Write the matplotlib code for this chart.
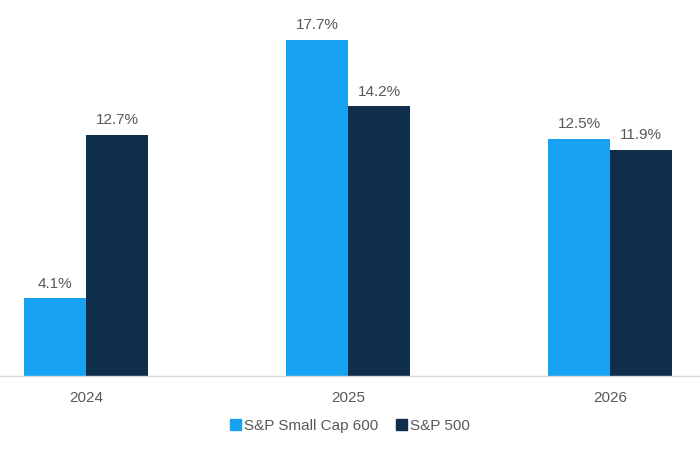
import numpy as np
import matplotlib.pyplot as plt
from matplotlib.patches import Patch

years = ['2024', '2025', '2026']
small_cap = [4.1, 17.7, 12.5]
sp500 = [12.7, 14.2, 11.9]
series_names = ['S&P Small Cap 600', 'S&P 500']

light = '#18a2f2'
dark = '#0f2e4b'
grey = '#595959'

plt.rcParams['font.family'] = ['Liberation Sans', 'DejaVu Sans']

fig = plt.figure(figsize=(7, 4.5), dpi=100)
ax = fig.add_axes([0, 1 - 376 / 450, 1, 356 / 450])

x = np.arange(len(years))
w = 0.237
b1 = ax.bar(x - w / 2, small_cap, w, color=light)
b2 = ax.bar(x + w / 2, sp500, w, color=dark)

# value labels above each bar
for bars, vals in ((b1, small_cap), (b2, sp500)):
    for bar, v in zip(bars, vals):
        ax.text(bar.get_x() + bar.get_width() / 2, v + 0.4, f'{v}%',
                ha='center', va='bottom', fontsize=11, color=grey)

ax.set_xlim(-0.328, 2.343)
ax.set_ylim(0, 18.74)
ax.set_xticks(x)
ax.set_xticklabels(years, fontsize=11, color=grey)
ax.tick_params(axis='x', length=0, pad=11)
ax.set_yticks([])
for s in ['top', 'left', 'right']:
    ax.spines[s].set_visible(False)
ax.spines['bottom'].set_color('#d9d9d9')
ax.spines['bottom'].set_linewidth(1)

handles = [Patch(color=light), Patch(color=dark)]
fig.legend(handles, series_names, loc='center', bbox_to_anchor=(0.5, 1 - 426 / 450),
           ncol=2, frameon=False, fontsize=11, labelcolor=grey,
           handlelength=0.7, handleheight=0.7, handletextpad=0.2, columnspacing=1.2)

fig.savefig('out.png', dpi=100)
